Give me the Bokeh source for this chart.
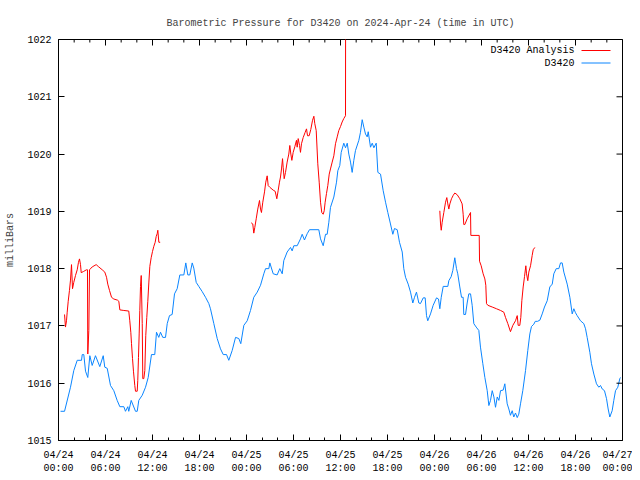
import math
from bokeh.plotting import figure
from bokeh.models import FixedTicker, Range1d, Label
from bokeh.embed import file_html
from bokeh.resources import INLINE

NAN = float("nan")

# ---- data (hours since 2024-04-24 00:00 UTC, pressure in mb) ----
obs_hours = [0.26, 0.77, 1.53, 1.95, 2.39, 2.94, 3.03, 3.23, 3.45, 3.74, 4.00, 4.30, 4.72, 5.27,
             5.71, 5.91, 6.22, 6.64, 7.06, 7.49, 7.83, 8.34, 8.55, 8.85, 8.97, 9.28, 9.83, 10.05,
             10.25, 10.69, 11.11, 11.45, 11.87, 12.29, 12.51, 12.80, 13.02, 13.31, 13.66, 13.88,
             14.17, 14.51, 14.81, 15.15, 15.49, 16.00, 16.25, 16.51, 16.76, 17.07, 17.27, 17.58,
             17.91, 18.34, 18.77, 19.19, 19.40, 19.83, 20.26, 20.68, 21.03, 21.45, 21.74, 22.17,
             22.60, 23.02, 23.27, 23.66, 24.09, 24.51, 24.93, 25.37, 25.79, 26.21, 26.43, 26.85,
             26.98, 27.41, 27.91, 28.25, 28.56, 28.76, 29.19, 29.62, 29.83, 30.04, 30.47, 30.89,
             31.11, 31.40, 31.75, 32.04, 33.23, 33.45, 33.79, 34.09, 34.30, 34.51, 34.72, 35.15,
             35.49, 35.66, 35.91, 36.09, 36.42, 36.64, 36.86, 37.06, 37.28, 37.49, 37.70, 37.91,
             38.34, 38.55, 38.77, 38.98, 39.19, 39.41, 39.54, 39.83, 40.05, 40.26, 40.56, 40.77,
             41.11, 41.45, 41.75, 42.04, 42.38, 42.68, 42.89, 43.24, 43.53, 43.88, 44.08, 44.30,
             44.64, 44.94, 45.23, 45.45, 45.70, 46.00, 46.21, 46.56, 46.81, 46.98, 47.14, 47.49,
             47.83, 48.26, 48.51, 48.68, 48.86, 49.11, 49.70, 49.83, 50.13, 50.34, 50.59, 50.81,
             50.97, 51.23, 51.45, 51.66, 51.74, 51.96, 52.17, 52.38, 52.60, 52.81, 53.02, 53.32,
             53.66, 53.87, 54.17, 54.43, 54.73, 54.94, 55.15, 55.37, 55.58, 55.79, 56.01, 56.22,
             56.43, 56.77, 56.98, 57.28, 57.49, 57.70, 57.92, 58.12, 58.34, 58.56, 58.76, 58.98,
             59.27, 59.62, 59.91, 60.17, 60.38, 60.68, 60.86, 61.15, 61.45, 61.75, 62.04, 62.39,
             62.72, 63.03, 63.23, 63.54, 63.87, 64.09, 64.30, 64.51, 64.94, 65.28, 65.58, 65.79,
             66.00, 66.21, 66.64, 67.06, 67.28, 67.49, 67.83, 68.04, 68.34, 68.68, 68.98, 69.19,
             69.41, 69.70, 69.96, 70.17, 70.38, 70.68, 70.89, 71.11, 71.40, 71.66, 71.74]
obs_mb = [1015.51, 1015.51, 1015.93, 1016.22, 1016.40, 1016.40, 1016.50, 1016.50, 1016.21, 1016.10,
          1016.48, 1016.31, 1016.48, 1016.29, 1016.48, 1016.28, 1016.26, 1015.96, 1015.87, 1015.70,
          1015.59, 1015.59, 1015.51, 1015.59, 1015.51, 1015.70, 1015.51, 1015.51, 1015.70, 1015.79,
          1015.93, 1016.10, 1016.50, 1016.50, 1016.89, 1016.80, 1016.89, 1016.80, 1016.80, 1017.04,
          1017.18, 1017.20, 1017.56, 1017.65, 1017.89, 1017.89, 1018.10, 1017.89, 1017.89, 1018.10,
          1018.01, 1017.76, 1017.69, 1017.60, 1017.50, 1017.39, 1017.30, 1017.04, 1016.78, 1016.60,
          1016.50, 1016.50, 1016.40, 1016.57, 1016.80, 1016.78, 1016.69, 1017.01, 1017.09, 1017.27,
          1017.50, 1017.59, 1017.71, 1017.91, 1018.00, 1018.00, 1018.10, 1017.91, 1017.89, 1018.00,
          1017.91, 1018.14, 1018.29, 1018.37, 1018.31, 1018.40, 1018.40, 1018.52, 1018.60, 1018.50,
          1018.61, 1018.68, 1018.68, 1018.52, 1018.40, 1018.60, 1018.60, 1018.81, 1019.07, 1019.25,
          1019.51, 1019.71, 1019.80, 1020.03, 1020.19, 1020.11, 1020.19, 1020.00, 1019.86, 1019.68,
          1019.89, 1020.06, 1020.24, 1020.38, 1020.60, 1020.47, 1020.35, 1020.30, 1020.39, 1020.12,
          1020.19, 1020.11, 1020.19, 1019.68, 1019.65, 1019.36, 1019.16, 1018.98, 1018.78, 1018.60,
          1018.70, 1018.68, 1018.46, 1018.29, 1018.00, 1017.85, 1017.73, 1017.59, 1017.40, 1017.50,
          1017.59, 1017.40, 1017.39, 1017.49, 1017.49, 1017.18, 1017.09, 1017.21, 1017.36, 1017.49,
          1017.47, 1017.30, 1017.50, 1017.69, 1017.69, 1017.79, 1017.86, 1017.97, 1018.19, 1018.00,
          1017.91, 1017.68, 1017.50, 1017.50, 1017.20, 1017.20, 1017.40, 1017.56, 1017.56, 1017.36,
          1017.04, 1016.98, 1016.92, 1016.63, 1016.34, 1016.10, 1015.87, 1015.61, 1015.70, 1015.87,
          1015.76, 1015.58, 1015.76, 1015.70, 1015.87, 1015.88, 1015.99, 1015.64, 1015.55, 1015.44,
          1015.52, 1015.41, 1015.48, 1015.40, 1015.46, 1015.64, 1015.87, 1016.22, 1016.57, 1016.86,
          1016.99, 1017.03, 1017.08, 1017.08, 1017.10, 1017.21, 1017.33, 1017.44, 1017.68, 1017.73,
          1017.91, 1018.00, 1018.00, 1018.10, 1018.10, 1017.94, 1017.73, 1017.50, 1017.21, 1017.30,
          1017.23, 1017.18, 1017.09, 1017.04, 1016.95, 1016.80, 1016.54, 1016.34, 1016.16, 1015.99,
          1015.93, 1015.96, 1015.90, 1015.87, 1015.73, 1015.55, 1015.41, 1015.52, 1015.70, 1015.87,
          1015.93, 1016.08, 1016.10]

ana_hours = [0.77, 0.89, 1.02, 1.11, 1.24, 1.40, 1.53, 1.66, 1.79, 1.95, 2.17, 2.39, 2.55, 2.68,
             2.81, 2.90, 3.19, 3.57, 3.70, 3.74, 3.87, 3.96, 4.30, 4.81, 5.14, 5.58, 5.91, 6.13,
             6.29, 6.51, 6.77, 7.06, 7.53, 7.70, 7.83, 8.34, 8.97, 9.10, 9.23, 9.32, 9.45, 9.57,
             9.74, 9.83, 10.05, 10.12, 10.21, 10.30, 10.38, 10.47, 10.56, 10.69, 10.76, 10.89,
             11.02, 11.14, 11.27, 11.40, 11.53, 11.66, 11.83, 12.00, 12.17, 12.34, 12.47, 12.60,
             12.68, 12.81, 12.98,
             NAN,
             24.60, 24.80, 24.93, 25.06, 25.24, 25.44, 25.66, 25.79, 25.91, 26.08, 26.30, 26.46,
             26.64, 26.77, 26.98, 27.41, 27.66, 27.87, 28.05, 28.21, 28.34, 28.47, 28.60, 28.68,
             28.81, 28.98, 29.19, 29.40, 29.53, 29.66, 29.79, 29.96, 30.17, 30.38, 30.47, 30.60,
             30.77, 30.89, 31.02, 31.24, 31.49, 31.66, 31.79, 32.00, 32.21, 32.43, 32.60, 32.72,
             32.90, 33.10, 33.28, 33.45, 33.61, 33.79, 33.92, 34.04, 34.21, 34.38, 34.56, 34.72,
             34.94, 35.15, 35.36, 35.58, 35.78, 36.00, 36.21, 36.42, 36.64, 36.66,
             NAN,
             48.68, 48.77, 48.86, 48.98, 49.19, 49.41, 49.57, 49.70, 49.83, 49.96, 50.17, 50.39,
             50.59, 50.90, 51.23, 51.53, 51.66, 51.74, 51.87, 52.17, 52.60, 52.64, 53.71, 53.75,
             53.96, 54.21, 54.43, 54.55, 54.64, 54.81, 55.37, 55.91, 56.43, 56.85, 57.06, 57.36,
             57.70, 58.00, 58.34, 58.56, 58.68, 58.89, 59.02, 59.15, 59.32, 59.49, 59.66, 59.75,
             59.91, 60.04, 60.26, 60.47, 60.60, 60.81]
ana_mb = [1017.20, 1016.98, 1017.09, 1017.24, 1017.43, 1017.62, 1017.80, 1018.07, 1017.65, 1017.76,
          1017.88, 1017.98, 1018.11, 1018.17, 1018.07, 1017.93, 1017.95, 1017.98, 1017.98, 1016.51,
          1016.92, 1017.98, 1018.03, 1018.07, 1018.03, 1017.98, 1017.94, 1017.85, 1017.73, 1017.62,
          1017.50, 1017.47, 1017.45, 1017.43, 1017.28, 1017.27, 1017.26, 1017.09, 1016.89, 1016.69,
          1016.43, 1016.21, 1015.96, 1015.86, 1015.86, 1016.05, 1016.45, 1016.86, 1017.27, 1017.69,
          1017.88, 1017.04, 1016.08, 1016.08, 1016.22, 1016.83, 1017.15, 1017.43, 1017.75, 1018.04,
          1018.19, 1018.30, 1018.39, 1018.46, 1018.56, 1018.61, 1018.67, 1018.46, 1018.46,
          NAN,
          1018.80, 1018.78, 1018.62, 1018.72, 1018.87, 1019.04, 1019.19, 1019.04, 1018.98, 1019.16,
          1019.34, 1019.51, 1019.62, 1019.45, 1019.42, 1019.37, 1019.35, 1019.22, 1019.37, 1019.51,
          1019.60, 1019.74, 1019.92, 1019.77, 1019.57, 1019.68, 1019.86, 1020.00, 1020.15, 1020.00,
          1019.89, 1020.03, 1020.13, 1020.24, 1020.12, 1020.27, 1020.15, 1020.03, 1020.18, 1020.29,
          1020.38, 1020.44, 1020.32, 1020.32, 1020.43, 1020.59, 1020.66, 1020.53, 1020.41, 1019.83,
          1019.51, 1019.16, 1018.98, 1018.95, 1019.01, 1019.16, 1019.31, 1019.45, 1019.65, 1019.74,
          1019.86, 1019.97, 1020.18, 1020.30, 1020.41, 1020.48, 1020.56, 1020.62, 1020.67, 1023.50,
          NAN,
          1019.01, 1018.78, 1018.67, 1018.81, 1018.98, 1019.16, 1019.24, 1019.13, 1019.04, 1019.13,
          1019.22, 1019.28, 1019.32, 1019.29, 1019.22, 1019.13, 1018.95, 1018.77, 1018.77, 1018.87,
          1018.98, 1018.58, 1018.58, 1018.13, 1018.05, 1017.91, 1017.82, 1017.71, 1017.39, 1017.36,
          1017.33, 1017.30, 1017.27, 1017.24, 1017.15, 1017.04, 1016.90, 1017.01, 1017.09, 1017.18,
          1017.01, 1017.01, 1017.15, 1017.44, 1017.68, 1017.86, 1018.05, 1017.91, 1017.79, 1017.94,
          1018.05, 1018.23, 1018.33, 1018.37]

x_tick_hours = [0, 6, 12, 18, 24, 30, 36, 42, 48, 54, 60, 66, 72]
x_minor_hours = list(range(0, 73, 2))
x_tick_labels = ["04/24\n00:00", "04/24\n06:00", "04/24\n12:00", "04/24\n18:00",
                 "04/25\n00:00", "04/25\n06:00", "04/25\n12:00", "04/25\n18:00",
                 "04/26\n00:00", "04/26\n06:00", "04/26\n12:00", "04/26\n18:00",
                 "04/27\n00:00"]
y_ticks = [1015, 1016, 1017, 1018, 1019, 1020, 1021, 1022]

series_names = ["D3420 Analysis", "D3420"]
RED = "#ff0000"
BLUE = "#0a85ff"
FONT = "Liberation Mono"
FS = "10px"

X0, X1 = 0, 72
Y0, Y1 = 1015, 1022
W, H = 632, 476
BL, BR, BT, BB = 58, 10, 39, 36
FW, FH = W - BL - BR, H - BT - BB
px_x = (X1 - X0) / FW   # hours per pixel
px_y = (Y1 - Y0) / FH   # mb per pixel

p = figure(width=W, height=H, output_backend="svg", toolbar_location=None,
           x_range=Range1d(X0, X1), y_range=Range1d(Y0, Y1),
           min_border_left=BL, min_border_top=BT, min_border_right=BR, min_border_bottom=BB,
           title="Barometric Pressure for D3420 on 2024-Apr-24 (time in UTC)")
p.grid.visible = False
p.outline_line_color = "black"
p.outline_line_width = 1
p.outline_line_alpha = 1
p.background_fill_color = "white"
p.border_fill_color = "white"

p.title.text_font = FONT
p.title.text_font_size = FS
p.title.text_font_style = "normal"
p.title.align = "center"
p.title.standoff = 22

p.line(obs_hours, obs_mb, line_color=BLUE, line_width=1)
p.line(ana_hours, ana_mb, line_color=RED, line_width=1)

def style_axis(ax):
    ax.axis_line_color = None
    ax.major_tick_in = 6
    ax.major_tick_out = 0
    ax.minor_tick_in = 3
    ax.minor_tick_out = 0
    ax.major_tick_line_color = "black"
    ax.minor_tick_line_color = "black"
    ax.major_label_text_font = FONT
    ax.major_label_text_font_size = FS
    ax.major_label_text_color = "black"

xa = p.xaxis[0]
xa.ticker = FixedTicker(ticks=x_tick_hours, minor_ticks=x_minor_hours)
xa.major_label_overrides = {h: lab for h, lab in zip(x_tick_hours, x_tick_labels)}
style_axis(xa)
xa.major_label_standoff = 9

ya = p.yaxis[0]
ya.ticker = FixedTicker(ticks=y_ticks, minor_ticks=[])
style_axis(ya)
ya.major_label_standoff = 7
ya.axis_label = "milliBars"
ya.axis_label_text_font = FONT
ya.axis_label_text_font_size = FS
ya.axis_label_text_font_style = "normal"
ya.axis_label_standoff = 8

# mirrored ticks on the top and right edges (clipped to the frame)
p.scatter(x=x_tick_hours, y=[Y1] * len(x_tick_hours), marker="dash", size=12,
          angle=math.pi / 2, line_color="black", line_width=1)
p.scatter(x=x_minor_hours, y=[Y1] * len(x_minor_hours), marker="dash", size=6,
          angle=math.pi / 2, line_color="black", line_width=1)
p.scatter(x=[X1] * len(y_ticks), y=y_ticks, marker="dash", size=12,
          line_color="black", line_width=1)

# legend (gnuplot style: text, then line sample), placed from the frame's top-right corner
for i, (name, col) in enumerate(zip(series_names, [RED, BLUE])):
    yc = Y1 - (11 + 12.5 * i) * px_y
    p.add_layout(Label(x=X1 - 48 * px_x, y=yc, text=name,
                       text_font=FONT, text_font_size=FS, text_align="right",
                       text_baseline="middle", text_color="black"))
    p.segment(x0=[X1 - 41 * px_x], y0=[yc], x1=[X1 - 12 * px_x], y1=[yc],
              line_color=col, line_width=1)

open("out.html", "w").write(file_html(p, INLINE))
